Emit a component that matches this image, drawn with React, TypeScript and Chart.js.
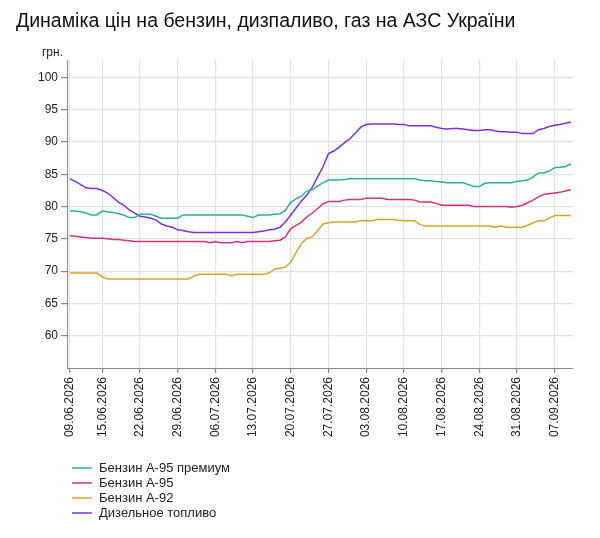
import React, { useEffect, useRef } from "react";
import { Chart, registerables } from "chart.js";

Chart.register(...registerables);

const FONT = "'Liberation Sans', Arial, sans-serif";

const startDate = new Date(2026, 5, 9);
const tickDays = [0, 6, 13, 20, 27, 34, 41, 48, 55, 62, 69, 76, 83, 90];
const yTicks = [60, 65, 70, 75, 80, 85, 90, 95, 100];

const seriesNames = ["Бензин А-95 премиум", "Бензин А-95", "Бензин А-92", "Дизельное топливо"];
const seriesColors = ["#2ab394", "#d6327a", "#d9a32a", "#7d2fe0"];

const premium95 = [
  79.3, 79.3, 79.2, 79.0, 78.7, 78.7, 79.3, 79.2, 79.1, 78.9,
  78.7, 78.3, 78.3, 78.8, 78.8, 78.8, 78.5, 78.2, 78.2, 78.2,
  78.2, 78.7, 78.7, 78.7, 78.7, 78.7, 78.7, 78.7, 78.7, 78.7,
  78.7, 78.7, 78.7, 78.5, 78.3, 78.7, 78.7, 78.7, 78.8, 78.9,
  79.4, 80.7, 81.2, 81.6, 82.4, 82.6, 83.2, 83.7, 84.1, 84.1,
  84.1, 84.2, 84.3, 84.3, 84.3, 84.3, 84.3, 84.3, 84.3, 84.3,
  84.3, 84.3, 84.3, 84.3, 84.3, 84.1, 84.0, 84.0, 83.9, 83.8,
  83.7, 83.7, 83.7, 83.7, 83.4, 83.1, 83.1, 83.6, 83.7, 83.7,
  83.7, 83.7, 83.7, 83.9, 84.0, 84.1, 84.6, 85.2, 85.2, 85.5,
  86.0, 86.1, 86.2, 86.6,
];

const petrol95 = [
  75.5, 75.4, 75.3, 75.2, 75.1, 75.1, 75.1, 75.0, 74.9, 74.9,
  74.8, 74.7, 74.6, 74.6, 74.6, 74.6, 74.6, 74.6, 74.6, 74.6,
  74.6, 74.6, 74.6, 74.6, 74.6, 74.6, 74.4, 74.6, 74.4, 74.4,
  74.4, 74.6, 74.4, 74.6, 74.6, 74.6, 74.6, 74.6, 74.7, 74.8,
  75.3, 76.6, 77.1, 77.6, 78.4, 79.0, 79.7, 80.4, 80.8, 80.8,
  80.8, 81.0, 81.1, 81.1, 81.1, 81.3, 81.3, 81.3, 81.3, 81.1,
  81.1, 81.1, 81.1, 81.1, 81.0, 80.7, 80.7, 80.7, 80.5, 80.2,
  80.2, 80.2, 80.2, 80.2, 80.2, 80.0, 80.0, 80.0, 80.0, 80.0,
  80.0, 80.0, 79.9, 80.0, 80.2, 80.6, 81.0, 81.5, 81.9, 82.0,
  82.1, 82.2, 82.4, 82.6,
];

const petrol92 = [
  69.7, 69.7, 69.7, 69.7, 69.7, 69.7, 69.1, 68.8, 68.8, 68.8,
  68.8, 68.8, 68.8, 68.8, 68.8, 68.8, 68.8, 68.8, 68.8, 68.8,
  68.8, 68.8, 68.8, 69.2, 69.5, 69.5, 69.5, 69.5, 69.5, 69.5,
  69.3, 69.5, 69.5, 69.5, 69.5, 69.5, 69.5, 69.7, 70.3, 70.5,
  70.6, 71.4, 72.9, 74.3, 75.1, 75.3, 76.3, 77.3, 77.5, 77.6,
  77.6, 77.6, 77.6, 77.6, 77.8, 77.8, 77.8, 78.0, 78.0, 78.0,
  78.0, 77.9, 77.8, 77.8, 77.8, 77.2, 77.0, 77.0, 77.0, 77.0,
  77.0, 77.0, 77.0, 77.0, 77.0, 77.0, 77.0, 77.0, 77.0, 76.8,
  77.0, 76.8, 76.8, 76.8, 76.8, 77.1, 77.5, 77.8, 77.8, 78.2,
  78.6, 78.6, 78.6, 78.6,
];

const diesel = [
  84.3, 83.9, 83.4, 82.9, 82.8, 82.8, 82.5, 82.1, 81.4, 80.7,
  80.2, 79.5, 79.0, 78.5, 78.4, 78.2, 77.9, 77.3, 77.0, 76.8,
  76.4, 76.3, 76.1, 76.0, 76.0, 76.0, 76.0, 76.0, 76.0, 76.0,
  76.0, 76.0, 76.0, 76.0, 76.0, 76.1, 76.2, 76.4, 76.5, 76.8,
  77.6, 78.7, 79.8, 80.9, 81.8, 83.0, 84.6, 86.2, 88.2, 88.6,
  89.2, 89.9, 90.5, 91.4, 92.3, 92.7, 92.8, 92.8, 92.8, 92.8,
  92.8, 92.7, 92.7, 92.5, 92.5, 92.5, 92.5, 92.5, 92.3, 92.1,
  92.0, 92.1, 92.1, 92.0, 91.9, 91.8, 91.8, 91.9, 91.9, 91.7,
  91.6, 91.6, 91.5, 91.5, 91.3, 91.3, 91.3, 91.9, 92.1, 92.4,
  92.6, 92.7, 92.9, 93.1,
];

const seriesValues = [premium95, petrol95, petrol92, diesel];

const dates = premium95.map((_, i) => {
  const d = new Date(startDate.getFullYear(), startDate.getMonth(), startDate.getDate() + i);
  const dd = String(d.getDate()).padStart(2, "0");
  const mm = String(d.getMonth() + 1).padStart(2, "0");
  return `${dd}.${mm}.${d.getFullYear()}`;
});

// title, unit label and the vertical legend are drawn on the canvas
const overlay = {
  id: "overlay",
  afterDraw(chart: Chart) {
    const ctx = chart.ctx;
    ctx.save();
    ctx.fillStyle = "#111";
    ctx.textBaseline = "alphabetic";
    ctx.textAlign = "left";
    ctx.font = `19.5px ${FONT}`;
    ctx.fillText("Динаміка цін на бензин, дизпаливо, газ на АЗС України", 16, 27);

    ctx.font = `12px ${FONT}`;
    ctx.fillStyle = "#222";
    ctx.textAlign = "right";
    ctx.textBaseline = "middle";
    ctx.fillText("грн.", 63, 53);

    ctx.font = `13px ${FONT}`;
    ctx.textAlign = "left";
    chart.data.datasets.forEach((ds, i) => {
      const y = 468 + i * 15;
      ctx.strokeStyle = ds.borderColor as string;
      ctx.lineWidth = 1.5;
      ctx.beginPath();
      ctx.moveTo(72, y);
      ctx.lineTo(92, y);
      ctx.stroke();
      ctx.fillStyle = "#222";
      ctx.fillText(ds.label as string, 99, y);
    });
    ctx.restore();
  },
};

const PriceChart: React.FC = () => {
  const canvas = useRef<HTMLCanvasElement>(null);

  useEffect(() => {
    const chart = new Chart(canvas.current!.getContext("2d")!, {
      type: "line",
      data: {
        datasets: seriesNames.map((name, i) => ({
          label: name,
          data: seriesValues[i].map((v, x) => ({ x, y: v })),
          borderColor: seriesColors[i],
          backgroundColor: seriesColors[i],
          borderWidth: 1.5,
          pointRadius: 0,
          tension: 0,
        })),
      },
      options: {
        responsive: true,
        maintainAspectRatio: false,
        animation: false,
        layout: { padding: { top: 60, right: 27, bottom: 90, left: 0 } },
        plugins: {
          legend: { display: false },
          title: { display: false },
          tooltip: { enabled: false },
        },
        scales: {
          x: {
            type: "linear",
            min: -0.55,
            max: 93.4,
            afterBuildTicks: scale => {
              scale.ticks = tickDays.map(v => ({ value: v }));
            },
            afterFit: scale => {
              scale.height = 80;
            },
            ticks: {
              autoSkip: false,
              minRotation: 90,
              maxRotation: 90,
              padding: 4,
              color: "#222",
              font: { family: FONT, size: 12 },
              callback: value => dates[Number(value)],
            },
            grid: { color: "#e2e2e2", lineWidth: 1.2, tickLength: 5, tickColor: "#888" },
            border: { color: "#888", width: 1 },
          },
          y: {
            min: 55,
            max: 102.7,
            afterBuildTicks: scale => {
              scale.ticks = yTicks.map(v => ({ value: v }));
            },
            afterFit: scale => {
              scale.width = 67;
            },
            ticks: {
              padding: 3,
              color: "#222",
              font: { family: FONT, size: 12 },
            },
            grid: { color: "#e2e2e2", lineWidth: 1.2, tickLength: 6, tickColor: "#888" },
            border: { color: "#888", width: 1 },
          },
        },
      },
      plugins: [overlay],
    });

    return () => {
      chart.destroy();
    };
  }, []);

  return (
    <div style={{ position: "fixed", left: 0, top: 0, width: 600, height: 538, background: "#fff" }}>
      <canvas ref={canvas}></canvas>
    </div>
  );
};

export default function App() {
  return <PriceChart />;
}
